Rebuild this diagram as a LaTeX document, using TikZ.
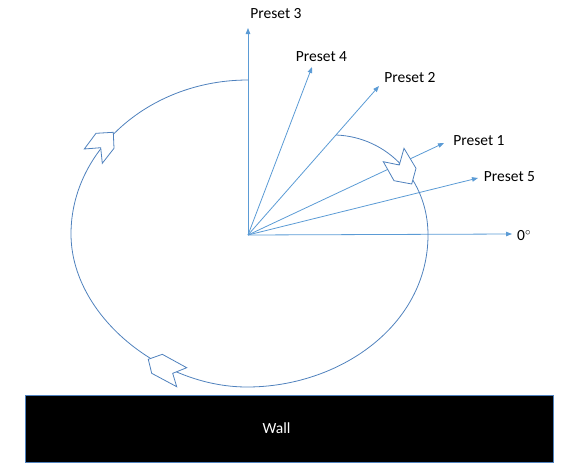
\documentclass[tikz,border=0pt]{standalone}
\usepackage{fontspec}
\setmainfont{Carlito}
\usetikzlibrary{arrows.meta}
\definecolor{ray}{RGB}{91,155,213}
\definecolor{path}{RGB}{79,129,189}
\tikzset{
  rayarrow/.style={draw=ray, line width=0.8pt, -{Triangle[length=6pt,width=4.5pt]}},
  lbl/.style={font=\fontsize{15.5}{18}\selectfont, inner sep=0pt},
  turn/.style={draw=path, line width=0.8pt},
  chev/.style={draw=path, fill=white, line width=0.8pt, line join=miter},
}
\begin{document}
\begin{tikzpicture}[x=1pt,y=-1pt]
\useasboundingbox (0,0) rectangle (575,471);
\coordinate (O) at (248,235);
% ray end points
\coordinate (e3) at (248,28);
\coordinate (e4) at (312,67);
\coordinate (e2) at (379,86);
\coordinate (e1) at (444,143);
\coordinate (e5) at (478,178);
\coordinate (e0) at (512,234);
\draw[rayarrow] (O) -- (e3);
\draw[rayarrow] (O) -- (e4);
\draw[rayarrow] (O) -- (e2);
\draw[rayarrow] (O) -- (e1);
\draw[rayarrow] (O) -- (e5);
\draw[rayarrow] (O) -- (e0);
\node[lbl] (l3) at (276,14) {Preset 3};
\node[lbl] (l4) at (321.5,57) {Preset 4};
\node[lbl] (l2) at (410,78) {Preset 2};
\node[lbl] (l1) at (479,141) {Preset 1};
\node[lbl] (l5) at (509.5,177) {Preset 5};
\node[lbl, anchor=west] (l0) at (517,236) {0$^{\circ}$};
% rotation path (spiral, clockwise)
\draw[turn] (336,135) .. controls (388,137) and (428,180) .. (428,235)
  .. controls (428,325) and (340,387) .. (247,387)
  .. controls (160,387) and (71,315) .. (71,234)
  .. controls (71,149) and (151,80) .. (248,80);
% chevron direction marks
\draw[chev] (96,133.3) -- (113.3,132.3) -- (114,148.3) -- (102.3,163.3) -- (100.7,147.7) -- (84.3,149) -- cycle;
\draw[chev] (383.3,161.7) -- (399.3,165) -- (404,148.3) -- (416,168.3) -- (411.7,184) -- (394,180.7) -- cycle;
\draw[chev] (148.3,359.3) -- (162.3,354.3) -- (186.7,367.7) -- (172.7,373.3) -- (176.7,386.7) -- (151.7,373.3) -- cycle;
% wall
\node[draw=path, fill=black, line width=0.6pt, minimum width=528pt, minimum height=67pt, inner sep=0pt] (wall) at (289,428.5) {};
\node[lbl, text=white] (walltext) at (276.5,428) {Wall};
\end{tikzpicture}
\end{document}
